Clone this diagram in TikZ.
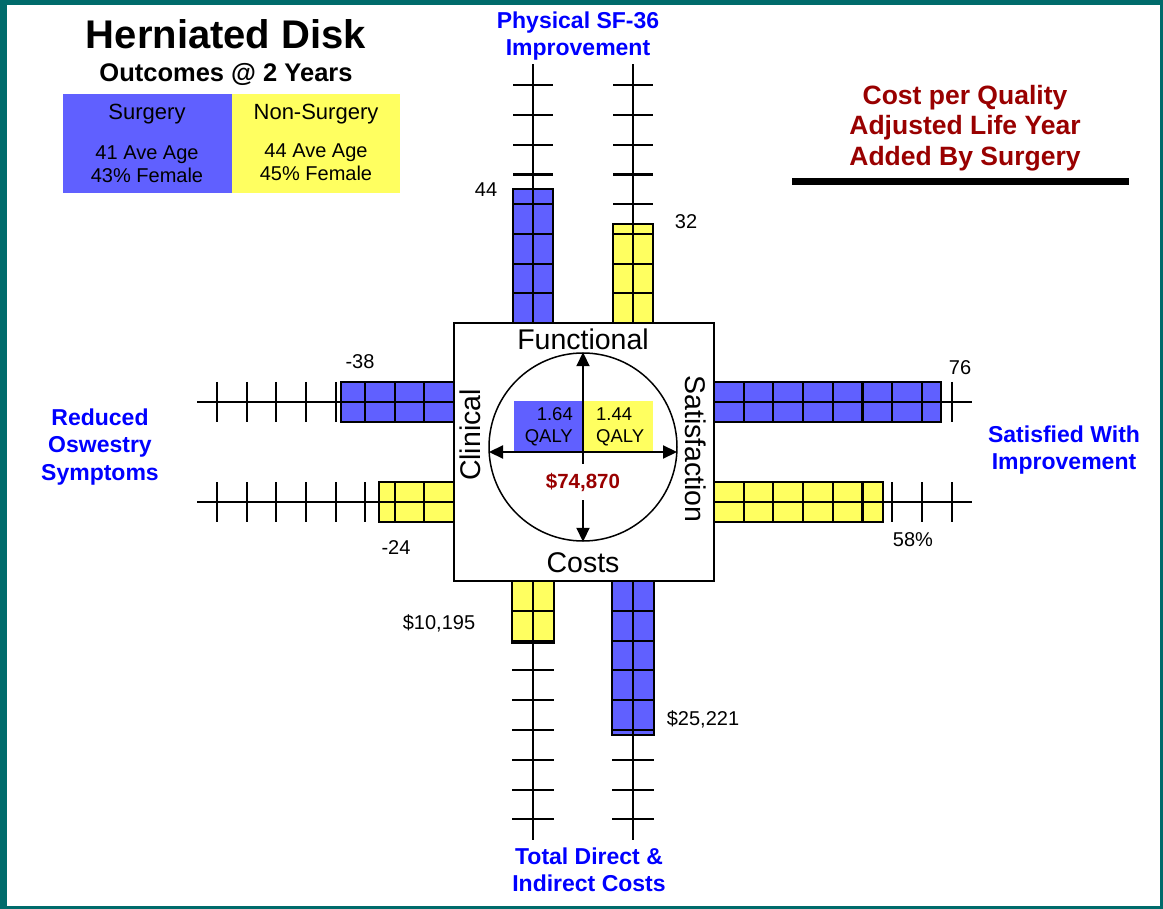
\documentclass[tikz,border=0pt]{standalone}
\usepackage{fontspec}
\setmainfont{Liberation Sans}
\usetikzlibrary{arrows.meta}
\definecolor{sblue}{RGB}{96,96,255}
\definecolor{syel}{RGB}{255,255,96}
\definecolor{frameteal}{RGB}{0,107,107}
\definecolor{dred}{RGB}{153,0,0}
\definecolor{tblue}{RGB}{0,0,255}
\tikzset{
  axisln/.style={line width=2.1pt},
  tickln/.style={line width=2.1pt},
  barln/.style={draw=black,line width=2.1pt},
  arr/.style={line width=2.2pt,-{Triangle[length=14pt,width=13pt]}},
  numlbl/.style={inner sep=0pt,font=\fontsize{20}{23}\selectfont},
  axlbl/.style={inner sep=0pt,font=\fontsize{28.5}{32}\selectfont},
  bluelbl/.style={inner sep=0pt,align=center,text=tblue,font=\bfseries\fontsize{23}{27.5}\selectfont},
}
\begin{document}
\begin{tikzpicture}[x=1pt,y=-1pt]
\useasboundingbox (0,0) rectangle (1163,909);
\fill[white] (0,0) rectangle (1163,909);

% ---- top axes (Physical SF-36)
\foreach \x/\t/\c in {533/189/sblue, 633/224/syel}{
  \fill[\c] ({\x-20},323) rectangle ({\x+20},\t);
  \draw[axisln] (\x,323) -- (\x,64);
  \foreach \k in {1,...,8} \draw[tickln] ({\x-20},{323-\k*29.7}) -- ({\x+20},{323-\k*29.7});
  \draw[barln] ({\x-20},323) rectangle ({\x+20},\t);
}
% ---- bottom axes (Costs)
\foreach \x/\t/\c in {533/643/syel, 633/735/sblue}{
  \fill[\c] ({\x-21},581) rectangle ({\x+21},\t);
  \draw[axisln] (\x,581) -- (\x,840);
  \foreach \k in {1,...,8} \draw[tickln] ({\x-21},{581+\k*29.8}) -- ({\x+21},{581+\k*29.8});
  \draw[barln] ({\x-21},581) rectangle ({\x+21},\t);
}
% ---- left axes (Clinical)
\foreach \y/\t/\c in {402/341/sblue, 502/379/syel}{
  \fill[\c] (454,{\y-20}) rectangle (\t,{\y+20});
  \draw[axisln] (454,\y) -- (197,\y);
  \foreach \k in {1,...,8} \draw[tickln] ({454-\k*29.6},{\y-20}) -- ({454-\k*29.6},{\y+20});
  \draw[barln] (454,{\y-20}) rectangle (\t,{\y+20});
}
% ---- right axes (Satisfaction)
\foreach \y/\t/\c in {402/941/sblue, 502/883/syel}{
  \fill[\c] (714,{\y-20}) rectangle (\t,{\y+20});
  \draw[axisln] (714,\y) -- (972,\y);
  \foreach \k in {1,...,8} \draw[tickln] ({714+\k*29.7},{\y-20}) -- ({714+\k*29.7},{\y+20});
  \draw[barln] (714,{\y-20}) rectangle (\t,{\y+20});
}

% ---- centre box
\draw[line width=1.8pt,fill=white] (454,323) rectangle (714,581);
\fill[sblue] (514,401) rectangle (583,451);
\fill[syel] (583,401) rectangle (653,451);
\node[draw,circle,line width=1.5pt,minimum size=188pt,inner sep=0pt] (circ) at (583,447) {};
\node[inner sep=0pt,align=right,anchor=east,font=\fontsize{18.5}{22}\selectfont] (qs) at (573,427) {1.64\\QALY};
\node[inner sep=0pt,align=left,anchor=west,font=\fontsize{18.5}{22}\selectfont] (qn) at (596,427) {1.44\\QALY};
\node[inner sep=9pt,text=dred,font=\bfseries\fontsize{20.5}{24}\selectfont] (cpq) at (583,482) {\$74,870};
\coordinate (hl) at (489,452);
\coordinate (hr) at (677,452);
\draw[arr] (cpq.north) -- (circ.north);
\draw[arr] (cpq.south) -- (circ.south);
\draw[line width=2.2pt,{Triangle[length=14pt,width=13pt]}-{Triangle[length=14pt,width=13pt]}] (hl) -- (hr);

\node[axlbl] (fun) at (583,339) {Functional};
\node[axlbl] (cst) at (583,563) {Costs};
\node[axlbl,rotate=90] (cli) at (470,435) {Clinical};
\node[axlbl,rotate=-90] (sat) at (696,449) {Satisfaction};

% ---- value labels
\node[numlbl] (v44) at (486,190) {44};
\node[numlbl] (v32) at (686,222) {32};
\node[numlbl] (vm38) at (360,362) {-38};
\node[numlbl] (vm24) at (396,548) {-24};
\node[numlbl] (v76) at (960,368) {76};
\node[numlbl] (v58) at (913,540) {58\%};
\node[numlbl] (v10) at (439,623) {\$10,195};
\node[numlbl] (v25) at (703,719) {\$25,221};

% ---- axis titles
\node[bluelbl] (tphys) at (578,36) {Physical SF-36\\Improvement};
\node[bluelbl] (tcost) at (589,870) {Total Direct \&\\Indirect Costs};
\node[bluelbl] (tosw) at (100,447) {Reduced\\Oswestry\\Symptoms};
\node[bluelbl] (tsat) at (1064,450) {Satisfied With\\Improvement};

% ---- title and legend
\node[inner sep=0pt,font=\bfseries\fontsize{40}{44}\selectfont] (title) at (226,34) {Herniated Disk};
\node[inner sep=0pt,font=\bfseries\fontsize{25.5}{28}\selectfont] (sub) at (226,74) {Outcomes @ 2 Years};
\fill[sblue] (63,94) rectangle (232,193);
\fill[syel] (232,94) rectangle (400,193);
\node[inner sep=0pt,font=\fontsize{22}{26}\selectfont] (ls) at (147,114) {Surgery};
\node[inner sep=0pt,font=\fontsize{22}{26}\selectfont] (ln) at (316,114) {Non-Surgery};
\node[inner sep=0pt,align=center,font=\fontsize{20}{23}\selectfont] (lsd) at (147,164) {41 Ave Age\\43\% Female};
\node[inner sep=0pt,align=center,font=\fontsize{20}{23}\selectfont] (lnd) at (316,162) {44 Ave Age\\45\% Female};

% ---- cost per QALY
\node[inner sep=0pt,align=center,text=dred,font=\bfseries\fontsize{26.5}{30.5}\selectfont] (cpqt) at (965,128) {Cost per Quality\\Adjusted Life Year\\Added By Surgery};
\fill[black] (792,178) rectangle (1129,185);

% ---- frame
\fill[frameteal] (0,0) rectangle (7,909);
\fill[frameteal] (0,0) rectangle (1163,5);
\fill[frameteal] (1160,0) rectangle (1163,909);
\fill[frameteal] (0,906) rectangle (1163,909);
\end{tikzpicture}
\end{document}
